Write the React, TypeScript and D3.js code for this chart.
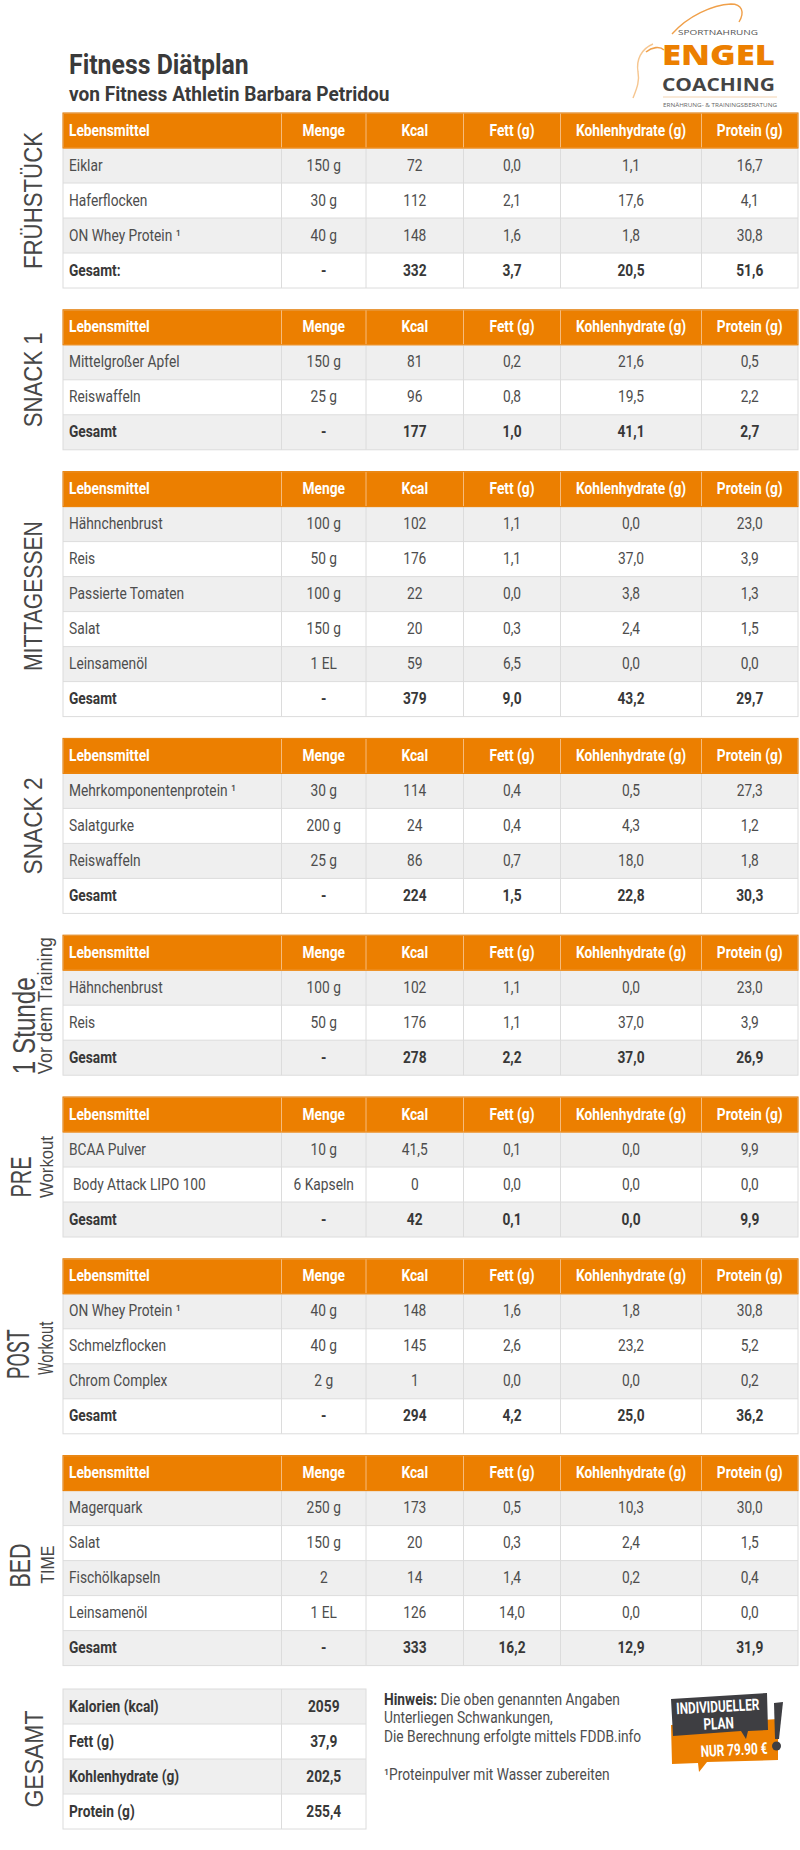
import React from "react";
import * as d3 from "d3";

// ---------- DATA ----------
const columns = ["Lebensmittel", "Menge", "Kcal", "Fett (g)", "Kohlenhydrate (g)", "Protein (g)"];

const fruehFoods = ["Eiklar", "Haferflocken", "ON Whey Protein \u00b9"];
const fruehAmounts = ["150 g", "30 g", "40 g"];
const fruehValues = [[72, 0.0, 1.1, 16.7], [112, 2.1, 17.6, 4.1], [148, 1.6, 1.8, 30.8]];
const fruehTotal = [332, 3.7, 20.5, 51.6];

const snack1Foods = ["Mittelgroßer Apfel", "Reiswaffeln"];
const snack1Amounts = ["150 g", "25 g"];
const snack1Values = [[81, 0.2, 21.6, 0.5], [96, 0.8, 19.5, 2.2]];
const snack1Total = [177, 1.0, 41.1, 2.7];

const mittagFoods = ["Hähnchenbrust", "Reis", "Passierte Tomaten", "Salat", "Leinsamenöl"];
const mittagAmounts = ["100 g", "50 g", "100 g", "150 g", "1 EL"];
const mittagValues = [[102, 1.1, 0.0, 23.0], [176, 1.1, 37.0, 3.9], [22, 0.0, 3.8, 1.3], [20, 0.3, 2.4, 1.5], [59, 6.5, 0.0, 0.0]];
const mittagTotal = [379, 9.0, 43.2, 29.7];

const snack2Foods = ["Mehrkomponentenprotein \u00b9", "Salatgurke", "Reiswaffeln"];
const snack2Amounts = ["30 g", "200 g", "25 g"];
const snack2Values = [[114, 0.4, 0.5, 27.3], [24, 0.4, 4.3, 1.2], [86, 0.7, 18.0, 1.8]];
const snack2Total = [224, 1.5, 22.8, 30.3];

const vorFoods = ["Hähnchenbrust", "Reis"];
const vorAmounts = ["100 g", "50 g"];
const vorValues = [[102, 1.1, 0.0, 23.0], [176, 1.1, 37.0, 3.9]];
const vorTotal = [278, 2.2, 37.0, 26.9];

const preFoods = ["BCAA Pulver", " Body Attack LIPO 100"];
const preAmounts = ["10 g", "6 Kapseln"];
const preValues = [[41.5, 0.1, 0.0, 9.9], [0, 0.0, 0.0, 0.0]];
const preTotal = [42, 0.1, 0.0, 9.9];

const postFoods = ["ON Whey Protein \u00b9", "Schmelzflocken", "Chrom Complex"];
const postAmounts = ["40 g", "40 g", "2 g"];
const postValues = [[148, 1.6, 1.8, 30.8], [145, 2.6, 23.2, 5.2], [1, 0.0, 0.0, 0.2]];
const postTotal = [294, 4.2, 25.0, 36.2];

const bedFoods = ["Magerquark", "Salat", "Fischölkapseln", "Leinsamenöl"];
const bedAmounts = ["250 g", "150 g", "2", "1 EL"];
const bedValues = [[173, 0.5, 10.3, 30.0], [20, 0.3, 2.4, 1.5], [14, 1.4, 0.2, 0.4], [126, 14.0, 0.0, 0.0]];
const bedTotal = [333, 16.2, 12.9, 31.9];

const sumLabels = ["Kalorien (kcal)", "Fett (g)", "Kohlenhydrate (g)", "Protein (g)"];
const sumValues = [2059, 37.9, 202.5, 255.4];

const mealTitles = [
  ["FRÜHSTÜCK"], ["SNACK 1"], ["MITTAGESSEN"], ["SNACK 2"],
  ["1 Stunde", "Vor dem Training"], ["PRE", "Workout"], ["POST", "Workout"], ["BED", "TIME"],
];

// ---------- LAYOUT ----------
const ORANGE = "#ec7f00";
const GRAY_ROW = "#efefef";
const LINE = "#dcdcdc";
const TXT = "#4d4d4d";
const TXT_B = "#383838";
const ROW_H = 35;
const GAP = 21.8;
const TOP0 = 113;
const colEdges = [63, 281.5, 366, 463.5, 560.5, 701.5, 798];
const SX = 0.86;

const fmt1 = (v: number) => d3.format(".1f")(v).replace(".", ",");
const fmtK = (v: number) => (Number.isInteger(v) ? d3.format("d")(v) : fmt1(v));

const meals = [
  { foods: fruehFoods, amounts: fruehAmounts, values: fruehValues, total: fruehTotal, totalLabel: "Gesamt:" },
  { foods: snack1Foods, amounts: snack1Amounts, values: snack1Values, total: snack1Total, totalLabel: "Gesamt" },
  { foods: mittagFoods, amounts: mittagAmounts, values: mittagValues, total: mittagTotal, totalLabel: "Gesamt" },
  { foods: snack2Foods, amounts: snack2Amounts, values: snack2Values, total: snack2Total, totalLabel: "Gesamt" },
  { foods: vorFoods, amounts: vorAmounts, values: vorValues, total: vorTotal, totalLabel: "Gesamt" },
  { foods: preFoods, amounts: preAmounts, values: preValues, total: preTotal, totalLabel: "Gesamt" },
  { foods: postFoods, amounts: postAmounts, values: postValues, total: postTotal, totalLabel: "Gesamt" },
  { foods: bedFoods, amounts: bedAmounts, values: bedValues, total: bedTotal, totalLabel: "Gesamt" },
];

type LL = { x: number; dy: number; size: number; len: number; anchor: string; fam: string };
const ARIAL = "'Liberation Sans', Arial, sans-serif";
const ROBO = "Roboto, 'Noto Sans', sans-serif";
const labelLayouts: LL[][] = [
  [{ x: 42, dy: 0, size: 26, len: 137, anchor: "middle", fam: ARIAL }],
  [{ x: 42, dy: 0, size: 26, len: 95, anchor: "middle", fam: ARIAL }],
  [{ x: 42, dy: 2, size: 26, len: 150, anchor: "middle", fam: ARIAL }],
  [{ x: 42, dy: 0, size: 26, len: 97, anchor: "middle", fam: ARIAL }],
  [{ x: 35, dy: 69, size: 31, len: 97, anchor: "start", fam: ARIAL }, { x: 52, dy: 69, size: 20, len: 137, anchor: "start", fam: ARIAL }],
  [{ x: 31, dy: 10, size: 30, len: 41, anchor: "middle", fam: ARIAL }, { x: 53, dy: 0, size: 19, len: 62, anchor: "middle", fam: ARIAL }],
  [{ x: 29, dy: 8, size: 31, len: 50, anchor: "middle", fam: ROBO }, { x: 53, dy: 2, size: 20, len: 54, anchor: "middle", fam: ROBO }],
  [{ x: 30, dy: 5, size: 30, len: 44, anchor: "middle", fam: ARIAL }, { x: 54, dy: 4, size: 19, len: 38, anchor: "middle", fam: ARIAL }],
];

function T(props: any) {
  const { x, y, anchor = "start", size = 16, weight = 400, fill = TXT, sx = SX, children } = props;
  return (
    <text
      transform={`translate(${x},${y}) scale(${sx},1)`}
      textAnchor={anchor}
      fontSize={size}
      fontWeight={weight}
      fill={fill}
      fontFamily={ROBO}
    >
      {children}
    </text>
  );
}

function MealTable({ meal, top, idx }: any) {
  const n = meal.foods.length + 2;
  const y = d3.scaleBand<number>().domain(d3.range(n)).range([top, top + n * ROW_H]);
  const cx = (i: number) => (colEdges[i] + colEdges[i + 1]) / 2;
  const rows = [
    ...meal.foods.map((f: string, i: number) => ({
      cells: [f, meal.amounts[i], fmtK(meal.values[i][0]), ...meal.values[i].slice(1).map(fmt1)],
      bold: false,
    })),
    { cells: [meal.totalLabel, "-", fmtK(meal.total[0]), ...meal.total.slice(1).map(fmt1)], bold: true },
  ];
  const x0 = colEdges[0];
  const x1 = colEdges[colEdges.length - 1];
  const bottom = top + n * ROW_H;
  const center = (top + bottom) / 2;
  return (
    <g>
      <rect x={x0} y={y(0)} width={x1 - x0} height={y.bandwidth()} fill={ORANGE} />
      {rows.map((r: any, i: number) => (
        <rect key={i} x={x0} y={y(i + 1)} width={x1 - x0} height={y.bandwidth()} fill={i % 2 === 0 ? GRAY_ROW : "#ffffff"} />
      ))}
      {d3.range(1, n).map((i) => (
        <line key={"h" + i} x1={x0} x2={x1} y1={y(i)} y2={y(i)} stroke={i === 1 ? "#f3b36b" : LINE} strokeWidth={1} />
      ))}
      {colEdges.slice(1, -1).map((cxv, i) => (
        <g key={"v" + i}>
          <line x1={cxv} x2={cxv} y1={top} y2={top + ROW_H} stroke="#f7bb7a" strokeWidth={1} />
          <line x1={cxv} x2={cxv} y1={top + ROW_H} y2={bottom} stroke={LINE} strokeWidth={1} />
        </g>
      ))}
      <rect x={x0} y={top} width={x1 - x0} height={n * ROW_H} fill="none" stroke={LINE} strokeWidth={1} />
      <rect x={x0} y={top} width={x1 - x0} height={ROW_H} fill="none" stroke={ORANGE} strokeWidth={1} />
      {columns.map((c, i) => (
        <T key={"c" + i} x={i === 0 ? 69 : cx(i)} y={y(0)! + 22.5} anchor={i === 0 ? "start" : "middle"} weight={700} fill="#ffffff">
          {c}
        </T>
      ))}
      {rows.map((r: any, ri: number) =>
        r.cells.map((c: string, ci: number) => (
          <T
            key={ri + "-" + ci}
            x={ci === 0 ? (c.startsWith(" ") ? 73 : 69) : cx(ci)}
            y={y(ri + 1)! + 22.5}
            anchor={ci === 0 ? "start" : "middle"}
            weight={r.bold ? 700 : 400}
            fill={r.bold ? TXT_B : TXT}
          >
            {c.trim()}
          </T>
        ))
      )}
      {mealTitles[idx].map((t, li) => {
        const L = labelLayouts[idx][li];
        return (
          <text
            key={"l" + li}
            transform={`translate(${L.x},${center + L.dy}) rotate(-90)`}
            textAnchor={L.anchor}
            fontSize={L.size}
            fontFamily={L.fam}
            fill="#474747"
            textLength={L.len}
            lengthAdjust="spacingAndGlyphs"
          >
            {t}
          </text>
        );
      })}
    </g>
  );
}

function Logo() {
  return (
    <g>
      <path d="M672,34 C688,16 712,5 731,4 C742,4 745,12 739,22" fill="none" stroke="#f0a04a" strokeWidth={1.4} />
      <path d="M653,44 C641,49 636,60 638,72 C640,82 636,90 633,98" fill="none" stroke="#f6c690" strokeWidth={1.4} />
      <path d="M646,52 C652,47 660,46 664,50" fill="none" stroke="#f0a04a" strokeWidth={1.6} />
      <text x={678} y={35} fontSize={8} fontFamily="'Open Sans', sans-serif" fill="#555" textLength={80} lengthAdjust="spacingAndGlyphs">SPORTNAHRUNG</text>
      <text x={662} y={65} fontSize={28} fontWeight={800} fontFamily="'Open Sans', sans-serif" fill={ORANGE} textLength={113} lengthAdjust="spacingAndGlyphs">ENGEL</text>
      <text x={662} y={91} fontSize={17} fontWeight={700} fontFamily="'Open Sans', sans-serif" fill="#444" textLength={113} lengthAdjust="spacingAndGlyphs">COACHING</text>
      <line x1={663} x2={777} y1={97} y2={97} stroke="#f3d3b0" strokeWidth={1} />
      <text x={663} y={107} fontSize={6} fontFamily="'Open Sans', sans-serif" fill="#666" textLength={114} lengthAdjust="spacingAndGlyphs">ERNÄHRUNG- &amp; TRAININGSBERATUNG</text>
    </g>
  );
}

function Badge() {
  return (
    <g>
      <path d="M671,1725 L778,1719 L778,1760 L707,1762 L699,1772 L698,1763 L672,1764 Z" fill={ORANGE} />
      <path d="M671,1699 L767,1693 L768,1730 L748,1731 L746,1739 L741,1731 L673,1736 Z" fill="#3e3e42" />
      <path d="M774,1703 L783,1702 L779,1739 L775,1739 Z" fill="#3e3e42" />
      <circle cx={776.5} cy={1746} r={4.5} fill="#3e3e42" />
      <g transform="rotate(-3,720,1730)">
        <T x={719} y={1712} anchor="middle" size={16} weight={700} fill="#ffffff" sx={0.74}>INDIVIDUELLER</T>
        <T x={719} y={1729} anchor="middle" size={16} weight={700} fill="#ffffff" sx={0.74}>PLAN</T>
        <T x={733} y={1756} anchor="middle" size={16} weight={700} fill="#ffffff" sx={0.74}>NUR 79.90 €</T>
      </g>
    </g>
  );
}

export default function App() {
  const tops: number[] = [];
  let t = TOP0;
  meals.forEach((m) => {
    tops.push(t);
    t += (m.foods.length + 2) * ROW_H + GAP;
  });
  const sumTop = 1689;
  const sy = d3.scaleBand<number>().domain(d3.range(sumLabels.length)).range([sumTop, sumTop + sumLabels.length * ROW_H]);
  return (
    <svg width={800} height={1850} style={{ position: "absolute", left: 0, top: 0, background: "#fff" }}>
      <rect width={800} height={1850} fill="#ffffff" />
      <T x={69} y={74} size={27} weight={700} fill="#3a3a3a" sx={0.92}>Fitness Diätplan</T>
      <T x={69} y={101} size={21} weight={700} fill="#3a3a3a" sx={0.91}>von Fitness Athletin Barbara Petridou</T>
      <Logo />
      {meals.map((m, i) => (
        <MealTable key={i} meal={m} top={tops[i]} idx={i} />
      ))}
      <g>
        {sumLabels.map((l, i) => (
          <g key={i}>
            <rect x={colEdges[0]} y={sy(i)} width={colEdges[2] - colEdges[0]} height={sy.bandwidth()} fill={i % 2 === 0 ? GRAY_ROW : "#fff"} />
            <T x={69} y={sy(i)! + 22.5} weight={700} fill={TXT_B}>{l}</T>
            <T x={(colEdges[1] + colEdges[2]) / 2} y={sy(i)! + 22.5} anchor="middle" weight={700} fill={TXT_B}>
              {fmtK(sumValues[i])}
            </T>
          </g>
        ))}
        {d3.range(1, sumLabels.length).map((i) => (
          <line key={i} x1={colEdges[0]} x2={colEdges[2]} y1={sy(i)} y2={sy(i)} stroke={LINE} />
        ))}
        <line x1={colEdges[1]} x2={colEdges[1]} y1={sumTop} y2={sumTop + sumLabels.length * ROW_H} stroke={LINE} />
        <rect x={colEdges[0]} y={sumTop} width={colEdges[2] - colEdges[0]} height={sumLabels.length * ROW_H} fill="none" stroke={LINE} />
        <text
          transform={`translate(43,${sumTop + (sumLabels.length * ROW_H) / 2}) rotate(-90)`}
          textAnchor="middle"
          fontSize={26}
          fontFamily={ARIAL}
          fill="#474747"
          textLength={97}
          lengthAdjust="spacingAndGlyphs"
        >
          GESAMT
        </text>
      </g>
      <text transform={`translate(384,1705) scale(${SX},1)`} fontSize={16} fontFamily={ROBO} fill={TXT}>
        <tspan fontWeight={700} fill={TXT_B}>Hinweis:</tspan> Die oben genannten Angaben
      </text>
      <T x={384} y={1723}>Unterliegen Schwankungen,</T>
      <T x={384} y={1742}>Die Berechnung erfolgte mittels FDDB.info</T>
      <T x={384} y={1780}>{"\u00b9Proteinpulver mit Wasser zubereiten"}</T>
      <Badge />
    </svg>
  );
}
